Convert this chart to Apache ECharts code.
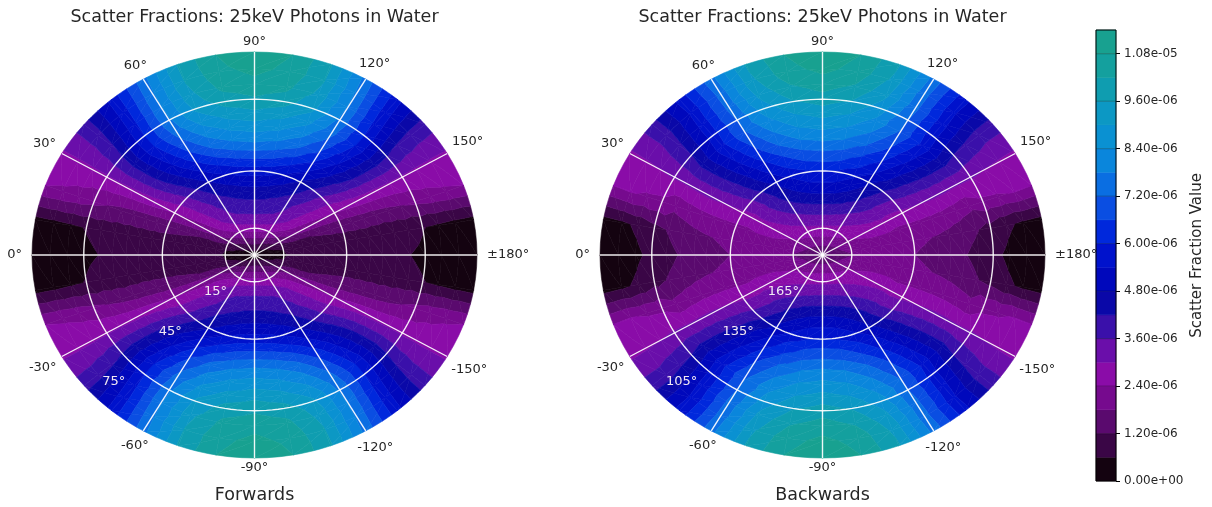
<!DOCTYPE html>
<html>
<head>
<meta charset="utf-8">
<title>Scatter Fractions: 25keV Photons in Water</title>
<script src="https://cdn.jsdelivr.net/npm/echarts@6/dist/echarts.min.js"></script>
<style>
  html, body { margin: 0; padding: 0; background: #ffffff; }
  #chart { width: 1212px; height: 507px; }
</style>
</head>
<body>
<div id="chart"></div>
<script>
// Scatter fraction of 25 keV photons in water on two stereographic hemisphere
// maps (forward / backward) sharing one stepped colour scale.

// Stored values are in units of 1e-6.
const UNIT = 1e-6;

// Values sit on grid nodes: row i is at RING_STEP * i degrees from the disk centre,
// column j at azimuth -180 + SECTOR_STEP * j degrees (0° on the left, 90° at the top).
const RING_STEP = 5;
const SECTOR_STEP = 10;

// Forward hemisphere, rows from θ = 0° (centre) out to θ = 90° (rim).
const forwardRows = [
  [0.3,0.3,0.3,0.3,0.3,0.3,0.3,0.3,0.3,0.3,0.3,0.3,0.3,0.3,0.3,0.3,0.3,0.3,0.3,0.3,0.3,0.3,0.3,0.3,0.3,0.3,0.3,0.3,0.3,0.3,0.3,0.3,0.3,0.3,0.3,0.3],
  [0.35,0.4,0.45,0.55,0.62,0.75,0.85,0.95,1.0,1.0,1.0,0.95,0.85,0.75,0.62,0.55,0.45,0.4,0.35,0.4,0.45,0.55,0.62,0.75,0.85,0.95,1.0,1.0,1.0,0.95,0.85,0.75,0.62,0.55,0.45,0.4],
  [0.45,0.5,0.65,0.95,1.2,1.45,1.65,1.75,1.85,1.9,1.85,1.75,1.65,1.45,1.2,0.95,0.65,0.5,0.45,0.5,0.65,0.95,1.2,1.45,1.65,1.75,1.85,1.9,1.85,1.75,1.65,1.45,1.2,0.95,0.65,0.5],
  [0.55,0.6,0.95,1.4,1.8,2.15,2.4,2.6,2.7,2.7,2.7,2.6,2.4,2.15,1.8,1.4,0.95,0.6,0.55,0.6,0.95,1.4,1.8,2.15,2.4,2.6,2.7,2.7,2.7,2.6,2.4,2.15,1.8,1.4,0.95,0.6],
  [0.7,0.75,1.15,1.75,2.3,2.7,3.0,3.2,3.3,3.35,3.3,3.2,3.0,2.7,2.3,1.75,1.15,0.75,0.7,0.75,1.15,1.75,2.3,2.7,3.0,3.2,3.3,3.35,3.3,3.2,3.0,2.7,2.3,1.75,1.15,0.75],
  [0.85,0.9,1.15,1.95,2.6,3.1,3.45,3.65,3.75,3.8,3.75,3.65,3.45,3.1,2.6,1.95,1.15,0.9,0.85,0.9,1.15,1.95,2.6,3.1,3.45,3.65,3.75,3.8,3.75,3.65,3.45,3.1,2.6,1.95,1.15,0.9],
  [0.95,1.0,1.2,2.1,2.8,3.3,3.7,3.95,4.1,4.15,4.1,3.95,3.7,3.3,2.8,2.1,1.2,1.0,0.95,1.0,1.2,2.1,2.8,3.3,3.7,3.95,4.1,4.15,4.1,3.95,3.7,3.3,2.8,2.1,1.2,1.0],
  [1.0,1.02,1.25,2.2,2.95,3.5,4.0,4.3,4.5,4.6,4.5,4.3,4.0,3.5,2.95,2.2,1.25,1.02,1.0,1.02,1.25,2.2,2.95,3.5,4.0,4.3,4.5,4.6,4.5,4.3,4.0,3.5,2.95,2.2,1.25,1.02],
  [1.0,1.03,1.3,2.3,3.1,3.8,4.35,4.75,5.0,5.1,5.0,4.75,4.35,3.8,3.1,2.3,1.3,1.03,1.0,1.03,1.3,2.3,3.1,3.8,4.35,4.75,5.0,5.1,5.0,4.75,4.35,3.8,3.1,2.3,1.3,1.03],
  [1.0,1.03,1.35,2.4,3.3,4.1,4.75,5.25,5.6,5.7,5.6,5.25,4.75,4.1,3.3,2.4,1.35,1.03,1.0,1.03,1.35,2.4,3.3,4.1,4.75,5.25,5.6,5.7,5.6,5.25,4.75,4.1,3.3,2.4,1.35,1.03],
  [0.95,1.0,1.4,2.55,3.6,4.5,5.3,5.95,6.35,6.5,6.35,5.95,5.3,4.5,3.6,2.55,1.4,1.0,0.95,1.0,1.4,2.55,3.6,4.5,5.3,5.95,6.35,6.5,6.35,5.95,5.3,4.5,3.6,2.55,1.4,1.0],
  [0.9,0.97,1.45,2.7,3.9,4.95,5.9,6.7,7.15,7.3,7.15,6.7,5.9,4.95,3.9,2.7,1.45,0.97,0.9,0.97,1.45,2.7,3.9,4.95,5.9,6.7,7.15,7.3,7.15,6.7,5.9,4.95,3.9,2.7,1.45,0.97],
  [0.8,0.9,1.5,2.8,4.15,5.35,6.5,7.4,7.9,8.1,7.9,7.4,6.5,5.35,4.15,2.8,1.5,0.9,0.8,0.9,1.5,2.8,4.15,5.35,6.5,7.4,7.9,8.1,7.9,7.4,6.5,5.35,4.15,2.8,1.5,0.9],
  [0.7,0.82,1.6,2.85,4.3,5.7,7.0,8.0,8.55,8.75,8.55,8.0,7.0,5.7,4.3,2.85,1.6,0.82,0.7,0.82,1.6,2.85,4.3,5.7,7.0,8.0,8.55,8.75,8.55,8.0,7.0,5.7,4.3,2.85,1.6,0.82],
  [0.6,0.75,1.75,2.9,4.4,6.0,7.45,8.6,9.2,9.45,9.2,8.6,7.45,6.0,4.4,2.9,1.75,0.75,0.6,0.75,1.75,2.9,4.4,6.0,7.45,8.6,9.2,9.45,9.2,8.6,7.45,6.0,4.4,2.9,1.75,0.75],
  [0.5,0.62,1.95,2.9,4.3,6.0,7.7,9.15,9.85,10.1,9.85,9.15,7.7,6.0,4.3,2.9,1.95,0.62,0.5,0.62,1.95,2.9,4.3,6.0,7.7,9.15,9.85,10.1,9.85,9.15,7.7,6.0,4.3,2.9,1.95,0.62],
  [0.35,0.52,2.15,2.9,4.1,5.85,7.75,9.45,10.35,10.6,10.35,9.45,7.75,5.85,4.1,2.9,2.15,0.52,0.35,0.52,2.15,2.9,4.1,5.85,7.75,9.45,10.35,10.6,10.35,9.45,7.75,5.85,4.1,2.9,2.15,0.52],
  [0.2,0.45,2.3,2.9,3.95,5.7,7.7,9.65,10.65,10.95,10.65,9.65,7.7,5.7,3.95,2.9,2.3,0.45,0.2,0.45,2.3,2.9,3.95,5.7,7.7,9.65,10.65,10.95,10.65,9.65,7.7,5.7,3.95,2.9,2.3,0.45],
  [0.1,0.42,2.4,2.9,3.9,5.6,7.6,9.7,10.8,11.2,10.8,9.7,7.6,5.6,3.9,2.9,2.4,0.42,0.1,0.42,2.4,2.9,3.9,5.6,7.6,9.7,10.8,11.2,10.8,9.7,7.6,5.6,3.9,2.9,2.4,0.42]
];

// Backward hemisphere, rows from θ = 180° (centre) out to θ = 90° (rim).
const backwardRows = [
  [1.2,1.2,1.2,1.2,1.2,1.2,1.2,1.2,1.2,1.2,1.2,1.2,1.2,1.2,1.2,1.2,1.2,1.2,1.2,1.2,1.2,1.2,1.2,1.2,1.2,1.2,1.2,1.2,1.2,1.2,1.2,1.2,1.2,1.2,1.2,1.2],
  [1.4,1.42,1.48,1.55,1.6,1.68,1.72,1.76,1.79,1.8,1.79,1.76,1.72,1.68,1.6,1.55,1.48,1.42,1.4,1.42,1.48,1.55,1.6,1.68,1.72,1.76,1.79,1.8,1.79,1.76,1.72,1.68,1.6,1.55,1.48,1.42],
  [1.6,1.73,1.86,1.98,2.08,2.17,2.25,2.3,2.34,2.35,2.34,2.3,2.25,2.17,2.08,1.98,1.86,1.73,1.6,1.73,1.86,1.98,2.08,2.17,2.25,2.3,2.34,2.35,2.34,2.3,2.25,2.17,2.08,1.98,1.86,1.73],
  [1.75,1.94,2.13,2.3,2.46,2.59,2.7,2.78,2.83,2.85,2.83,2.78,2.7,2.59,2.46,2.3,2.13,1.94,1.75,1.94,2.13,2.3,2.46,2.59,2.7,2.78,2.83,2.85,2.83,2.78,2.7,2.59,2.46,2.3,2.13,1.94],
  [1.85,2.04,2.24,2.47,2.69,2.9,3.09,3.23,3.32,3.35,3.32,3.23,3.09,2.9,2.69,2.47,2.24,2.04,1.85,2.04,2.24,2.47,2.69,2.9,3.09,3.23,3.32,3.35,3.32,3.23,3.09,2.9,2.69,2.47,2.24,2.04],
  [1.9,2.1,2.35,2.63,2.93,3.22,3.48,3.68,3.81,3.85,3.81,3.68,3.48,3.22,2.93,2.63,2.35,2.1,1.9,2.1,2.35,2.63,2.93,3.22,3.48,3.68,3.81,3.85,3.81,3.68,3.48,3.22,2.93,2.63,2.35,2.1],
  [1.9,2.1,2.39,2.75,3.13,3.53,3.88,4.16,4.34,4.4,4.34,4.16,3.88,3.53,3.13,2.75,2.39,2.1,1.9,2.1,2.39,2.75,3.13,3.53,3.88,4.16,4.34,4.4,4.34,4.16,3.88,3.53,3.13,2.75,2.39,2.1],
  [1.9,2.08,2.39,2.82,3.3,3.8,4.26,4.63,4.87,4.95,4.87,4.63,4.26,3.8,3.3,2.82,2.39,2.08,1.9,2.08,2.39,2.82,3.3,3.8,4.26,4.63,4.87,4.95,4.87,4.63,4.26,3.8,3.3,2.82,2.39,2.08],
  [1.85,1.96,2.28,2.76,3.36,4.0,4.59,5.07,5.39,5.5,5.39,5.07,4.59,4.0,3.36,2.76,2.28,1.96,1.85,1.96,2.28,2.76,3.36,4.0,4.59,5.07,5.39,5.5,5.39,5.07,4.59,4.0,3.36,2.76,2.28,1.96],
  [1.8,1.93,2.29,2.85,3.53,4.27,4.95,5.51,5.87,6.0,5.87,5.51,4.95,4.27,3.53,2.85,2.29,1.93,1.8,1.93,2.29,2.85,3.53,4.27,4.95,5.51,5.87,6.0,5.87,5.51,4.95,4.27,3.53,2.85,2.29,1.93],
  [1.7,1.85,2.29,2.95,3.77,4.64,5.45,6.12,6.55,6.7,6.55,6.12,5.45,4.64,3.77,2.95,2.29,1.85,1.7,1.85,2.29,2.95,3.77,4.64,5.45,6.12,6.55,6.7,6.55,6.12,5.45,4.64,3.77,2.95,2.29,1.85],
  [1.6,1.77,2.27,3.03,3.95,4.95,5.88,6.63,7.13,7.3,7.13,6.63,5.88,4.95,3.95,3.03,2.27,1.77,1.6,1.77,2.27,3.03,3.95,4.95,5.88,6.63,7.13,7.3,7.13,6.63,5.88,4.95,3.95,3.03,2.27,1.77],
  [1.45,1.65,2.22,3.09,4.15,5.29,6.36,7.23,7.8,8.0,7.8,7.23,6.36,5.29,4.15,3.09,2.22,1.65,1.45,1.65,2.22,3.09,4.15,5.29,6.36,7.23,7.8,8.0,7.8,7.23,6.36,5.29,4.15,3.09,2.22,1.65],
  [1.25,1.47,2.11,3.09,4.29,5.56,6.76,7.74,8.38,8.6,8.38,7.74,6.76,5.56,4.29,3.09,2.11,1.47,1.25,1.47,2.11,3.09,4.29,5.56,6.76,7.74,8.38,8.6,8.38,7.74,6.76,5.56,4.29,3.09,2.11,1.47],
  [1.0,1.25,1.96,3.05,4.39,5.81,7.15,8.24,8.95,9.25,8.95,8.24,7.15,5.81,4.39,3.05,1.96,1.25,1.0,1.25,1.96,3.05,4.39,5.81,7.15,8.24,8.95,9.25,8.95,8.24,7.15,5.81,4.39,3.05,1.96,1.25],
  [0.75,1.0,2.26,3.06,4.2,5.67,7.22,8.7,9.55,9.9,9.55,8.7,7.22,5.67,4.2,3.06,2.26,1.0,0.75,1.0,2.26,3.06,4.2,5.67,7.22,8.7,9.55,9.9,9.55,8.7,7.22,5.67,4.2,3.06,2.26,1.0],
  [0.48,0.7,2.32,2.99,4.06,5.63,7.38,9.15,10.1,10.5,10.1,9.15,7.38,5.63,4.06,2.99,2.32,0.7,0.48,0.7,2.32,2.99,4.06,5.63,7.38,9.15,10.1,10.5,10.1,9.15,7.38,5.63,4.06,2.99,2.32,0.7],
  [0.25,0.5,2.45,2.93,3.89,5.52,7.45,9.5,10.6,10.95,10.6,9.5,7.45,5.52,3.89,2.93,2.45,0.5,0.25,0.5,2.45,2.93,3.89,5.52,7.45,9.5,10.6,10.95,10.6,9.5,7.45,5.52,3.89,2.93,2.45,0.5],
  [0.1,0.42,2.4,2.9,3.9,5.6,7.6,9.7,10.8,11.2,10.8,9.7,7.6,5.6,3.9,2.9,2.4,0.42,0.1,0.42,2.4,2.9,3.9,5.6,7.6,9.7,10.8,11.2,10.8,9.7,7.6,5.6,3.9,2.9,2.4,0.42]
];

// Stepped colour scale: band k covers [colourLevels[k], colourLevels[k + 1]).
const colourLevels = [0, 0.6, 1.2, 1.8, 2.4, 3.0, 3.6, 4.2, 4.8, 5.4, 6.0, 6.6, 7.2, 7.8, 8.4, 9.0, 9.6, 10.2, 10.8, 11.4];
const colourSteps = [
  '#140310', '#3a0646', '#5a0a6e', '#760a8e', '#8a0ca8', '#6a0eaa', '#3a10aa', '#0a08a8',
  '#0008bc', '#0012cc', '#0028dc', '#0a4ee2', '#0a6ee2', '#0a86dc', '#0a91d2', '#0c98c4',
  '#0f9db0', '#14a09e', '#18a190'
];
const colourbarTicks = [0, 1.2, 2.4, 3.6, 4.8, 6.0, 7.2, 8.4, 9.6, 10.8];

// Azimuth grid and its labels.
const azimuthTicks = [0, 30, 60, 90, 120, 150, 180, -150, -120, -90, -60, -30];
const azimuthLabels = ['0°', '30°', '60°', '90°', '120°', '150°', '±180°', '-150°', '-120°', '-90°', '-60°', '-30°'];

// Polar-angle rings (degrees of θ) on each hemisphere.
const forwardRings = [15, 45, 75];
const backwardRings = [165, 135, 105];

const chartTitle = 'Scatter Fractions: 25keV Photons in Water';
const panelNames = ['Forwards', 'Backwards'];
const colourbarName = 'Scatter Fraction Value';

// ---------------------------------------------------------------------------

const FONT = 'DejaVu Sans';
const TEXT_COLOUR = '#262626';
const RAD = Math.PI / 180;
const DISK_RX = 222.5, DISK_RY = 203, DISK_CY = 255;

const disks = [
  { rows: forwardRows, rings: forwardRings, fromCentre: t => t, cx: 254.5, name: panelNames[0] },
  { rows: backwardRows, rings: backwardRings, fromCentre: t => 180 - t, cx: 822.5, name: panelNames[1] }
];

// Stereographic projection of (angle from the disk centre, azimuth) onto the unit disk.
function project(polar, phi) {
  const r = Math.tan(polar * RAD / 2);
  return [-r * Math.cos(phi * RAD), r * Math.sin(phi * RAD)];
}

const measureCtx = document.createElement('canvas').getContext('2d');
function textWidth(text, size) {
  measureCtx.font = size + 'px "' + FONT + '"';
  return measureCtx.measureText(text).width;
}

function sci(v) {
  const s = (v * UNIT).toExponential(2);
  return s.replace(/e([+-])(\d)$/, (m, sign, d) => 'e' + sign + '0' + d);
}

const GRID_LINE = { stroke: '#ffffff', lineWidth: 1.4, opacity: 0.92, fill: null };

// Keep the part of a polygon (vertices [polar, azimuth, value]) on one side of a level.
function clipAt(poly, level, keepAbove) {
  const out = [];
  for (let k = 0; k < poly.length; k++) {
    const a = poly[k], b = poly[(k + 1) % poly.length];
    const ina = keepAbove ? a[2] >= level : a[2] <= level;
    const inb = keepAbove ? b[2] >= level : b[2] <= level;
    if (ina) out.push(a);
    if (ina !== inb) {
      const s = (level - a[2]) / (b[2] - a[2]);
      out.push([a[0] + s * (b[0] - a[0]), a[1] + s * (b[1] - a[1]), level]);
    }
  }
  return out;
}

// Filled bands of one grid cell: each triangle of the cell is cut at the colour levels.
function bandRenderer(rows) {
  return function (params, api) {
    const i = api.value(0), j = api.value(1);
    const jn = (j + 1) % rows[i].length;
    const t0 = i * RING_STEP, t1 = t0 + RING_STEP;
    const p0 = -180 + j * SECTOR_STEP, p1 = p0 + SECTOR_STEP;
    const A = [t0, p0, rows[i][j]], B = [t1, p0, rows[i + 1][j]];
    const C = [t1, p1, rows[i + 1][jn]], D = [t0, p1, rows[i][jn]];
    const children = [];
    [[A, B, C], [A, C, D]].forEach(tri => {
      const vs = tri.map(p => p[2]);
      const lo = Math.min.apply(null, vs), hi = Math.max.apply(null, vs);
      for (let k = 0; k < colourSteps.length; k++) {
        const bandLo = colourLevels[k], bandHi = colourLevels[k + 1];
        if (hi < bandLo || lo > bandHi) continue;
        let poly = clipAt(tri, bandLo, true);
        if (poly.length < 3) continue;
        poly = clipAt(poly, bandHi, false);
        if (poly.length < 3) continue;
        const pts = [];
        for (let m = 0; m < poly.length; m++) {
          const a = poly[m], b = poly[(m + 1) % poly.length];
          for (let s = 0; s < 3; s++) {
            const f = s / 3;
            pts.push(api.coord(project(a[0] + f * (b[0] - a[0]), a[1] + f * (b[1] - a[1]))));
          }
        }
        const c = colourSteps[k];
        children.push({ type: 'polygon', shape: { points: pts }, style: { fill: c, stroke: c, lineWidth: 0.6 } });
      }
    });
    return { type: 'group', children: children };
  };
}

function ringRenderer(disk) {
  return function (params, api) {
    const polar = disk.fromCentre(api.value(0));
    const pts = [];
    for (let a = 0; a <= 360; a += 2) pts.push(api.coord(project(polar, a)));
    return { type: 'polyline', shape: { points: pts }, style: GRID_LINE };
  };
}

function spokeRenderer(params, api) {
  const phi = api.value(0);
  const a = api.coord(project(0, phi)), b = api.coord(project(90, phi));
  return { type: 'line', shape: { x1: a[0], y1: a[1], x2: b[0], y2: b[1] }, style: GRID_LINE };
}

function azimuthLabelRenderer(params, api) {
  const phi = api.value(0);
  const text = azimuthLabels[params.dataIndex];
  const edge = api.coord(project(90, phi));
  const dx = -Math.cos(phi * RAD), dy = -Math.sin(phi * RAD);
  const d = 10 + Math.abs(dx) * textWidth(text, 13) / 2;
  return {
    type: 'text', x: edge[0] + dx * d, y: edge[1] + dy * d,
    style: { text: text, fill: TEXT_COLOUR, font: '13px "' + FONT + '"', align: 'center', verticalAlign: 'middle' }
  };
}

function ringLabelRenderer(disk) {
  return function (params, api) {
    const tick = api.value(0);
    const p = api.coord(project(disk.fromCentre(tick), -44));
    return {
      type: 'text', x: p[0] - 18, y: p[1] + 18,
      style: { text: tick + '°', fill: '#f3e9f3', font: '13px "' + FONT + '"', align: 'center', verticalAlign: 'middle' }
    };
  };
}

const grids = [], xAxes = [], yAxes = [], series = [], graphics = [];

disks.forEach((disk, d) => {
  grids.push({ left: disk.cx - DISK_RX, top: DISK_CY - DISK_RY, width: 2 * DISK_RX, height: 2 * DISK_RY });
  xAxes.push({ gridIndex: d, type: 'value', min: -1, max: 1, show: false });
  yAxes.push({ gridIndex: d, type: 'value', min: -1, max: 1, show: false });

  const cells = [];
  for (let i = 0; i < disk.rows.length - 1; i++) {
    for (let j = 0; j < disk.rows[i].length; j++) cells.push([i, j]);
  }

  series.push({ type: 'custom', xAxisIndex: d, yAxisIndex: d, z: 1, silent: true,
    data: cells, renderItem: bandRenderer(disk.rows) });
  series.push({ type: 'custom', xAxisIndex: d, yAxisIndex: d, z: 3, silent: true,
    data: azimuthTicks.map(a => [a]), renderItem: spokeRenderer });
  series.push({ type: 'custom', xAxisIndex: d, yAxisIndex: d, z: 3, silent: true,
    data: disk.rings.map(t => [t]), renderItem: ringRenderer(disk) });
  series.push({ type: 'custom', xAxisIndex: d, yAxisIndex: d, z: 4, silent: true,
    data: azimuthTicks.map(a => [a]), renderItem: azimuthLabelRenderer });
  series.push({ type: 'custom', xAxisIndex: d, yAxisIndex: d, z: 4, silent: true,
    data: disk.rings.map(t => [t]), renderItem: ringLabelRenderer(disk) });

  graphics.push({ type: 'text', x: disk.cx, y: 17,
    style: { text: chartTitle, fill: TEXT_COLOUR, font: '17.5px "' + FONT + '"', align: 'center', verticalAlign: 'middle' } });
  graphics.push({ type: 'text', x: disk.cx, y: 495,
    style: { text: disk.name, fill: TEXT_COLOUR, font: '17.5px "' + FONT + '"', align: 'center', verticalAlign: 'middle' } });
});

// Colour bar
const CB = 2;
grids.push({ left: 1096, top: 30, width: 20, height: 451 });
xAxes.push({ gridIndex: CB, type: 'value', min: 0, max: 1, show: false });
yAxes.push({
  gridIndex: CB, type: 'value', position: 'right',
  min: colourLevels[0], max: colourLevels[colourLevels.length - 1],
  axisLine: { show: false, onZero: false },
  splitLine: { show: false },
  axisTick: { show: true, inside: false, length: 4, lineStyle: { color: '#000', width: 1 }, customValues: colourbarTicks },
  axisLabel: { show: true, customValues: colourbarTicks, formatter: sci, color: TEXT_COLOUR, fontSize: 12, fontFamily: FONT, margin: 8 },
  name: colourbarName, nameLocation: 'middle', nameRotate: 90, nameGap: 74,
  nameTextStyle: { fontSize: 15, color: TEXT_COLOUR, fontFamily: FONT }
});

series.push({
  type: 'custom', xAxisIndex: CB, yAxisIndex: CB, z: 1, silent: true,
  data: colourSteps.map((c, k) => [k, colourLevels[k], colourLevels[k + 1]]),
  renderItem: function (params, api) {
    const top = api.coord([0, api.value(2)]), bottom = api.coord([1, api.value(1)]);
    const c = colourSteps[api.value(0)];
    return { type: 'rect', shape: { x: top[0], y: top[1], width: bottom[0] - top[0], height: bottom[1] - top[1] },
      style: { fill: c, stroke: c, lineWidth: 0.5 } };
  }
});
series.push({
  type: 'custom', xAxisIndex: CB, yAxisIndex: CB, z: 2, silent: true,
  data: colourbarTicks.slice(1).map(v => [v]),
  renderItem: function (params, api) {
    const a = api.coord([0, api.value(0)]), b = api.coord([1, api.value(0)]);
    return { type: 'line', shape: { x1: a[0], y1: a[1], x2: b[0], y2: b[1] }, style: { stroke: 'rgba(0,0,0,0.35)', lineWidth: 0.8 } };
  }
});
series.push({
  type: 'custom', xAxisIndex: CB, yAxisIndex: CB, z: 3, silent: true,
  data: [[colourLevels[0], colourLevels[colourLevels.length - 1]]],
  renderItem: function (params, api) {
    const top = api.coord([0, api.value(1)]), bottom = api.coord([1, api.value(0)]);
    return { type: 'rect', shape: { x: top[0], y: top[1], width: bottom[0] - top[0], height: bottom[1] - top[1] },
      style: { fill: null, stroke: '#000', lineWidth: 1 } };
  }
});

const chart = echarts.init(document.getElementById('chart'), null, { renderer: 'canvas' });
chart.setOption({
  animation: false,
  backgroundColor: '#ffffff',
  grid: grids,
  xAxis: xAxes,
  yAxis: yAxes,
  graphic: graphics,
  series: series
});
</script>
</body>
</html>
